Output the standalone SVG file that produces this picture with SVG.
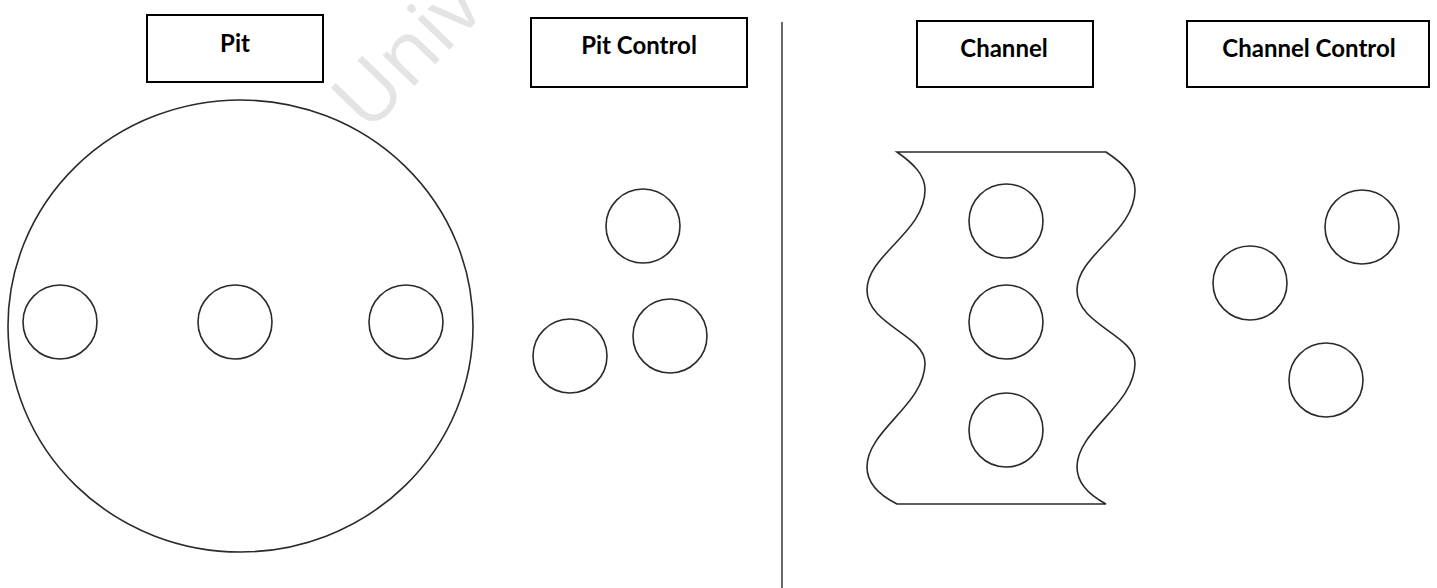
<svg xmlns="http://www.w3.org/2000/svg" width="1437" height="588" viewBox="0 0 1437 588">
  <style>
    .box { fill: #ffffff; stroke: #000000; stroke-width: 2; }
    .label { font-family: Lato, "Liberation Sans", sans-serif; font-weight: 700; font-size: 24px; fill: #000000; text-anchor: middle; }
    .ring { fill: none; stroke: #2a2a2a; stroke-width: 1.6; }
    .outline { fill: none; stroke: #2a2a2a; stroke-width: 1.6; }
    .mark { font-family: "Open Sans", Lato, sans-serif; font-weight: 400; font-size: 82px; fill: #e4e4e4; }
  </style>

  <rect width="1437" height="588" fill="#ffffff"/>

  <!-- faint background watermark -->
  <text class="mark" transform="translate(368 134) rotate(-46)">Univ</text>

  <!-- divider between the pit and channel panels -->
  <g id="connectors">
    <line x1="782" y1="22" x2="782" y2="588" stroke="#6a6a6a" stroke-width="2"/>
  </g>

  <!-- Pit -->
  <g id="pit-label">
    <rect class="box" x="147" y="15" width="176" height="67"/>
    <text class="label" x="235" y="52">Pit</text>
  </g>
  <g id="pit">
    <ellipse class="outline" cx="240.5" cy="326" rx="232.5" ry="226"/>
    <circle class="ring" cx="60" cy="322" r="37"/>
    <circle class="ring" cx="235" cy="322" r="37"/>
    <circle class="ring" cx="406" cy="322" r="37"/>
  </g>

  <!-- Pit Control -->
  <g id="pit-control-label">
    <rect class="box" x="531" y="18" width="216" height="69"/>
    <text class="label" x="639" y="54">Pit Control</text>
  </g>
  <g id="pit-control">
    <circle class="ring" cx="643" cy="226" r="37"/>
    <circle class="ring" cx="670" cy="336" r="37"/>
    <circle class="ring" cx="570" cy="356" r="37"/>
  </g>

  <!-- Channel -->
  <g id="channel-label">
    <rect class="box" x="917" y="21" width="176" height="66"/>
    <text class="label" x="1004" y="57">Channel</text>
  </g>
  <g id="channel">
    <path class="outline" d="M897,152 L1106,152
      C1124,164 1135,175 1135,190
      C1135,232 1077,255 1077,290
      C1077,325 1135,335 1135,363
      C1135,405 1077,430 1077,467
      C1077,484 1091,496 1106,504
      L897,504
      C881,496 867,484 867,467
      C867,430 925,405 925,363
      C925,335 867,325 867,290
      C867,255 925,232 925,190
      C925,175 914,164 897,152 Z"/>
    <circle class="ring" cx="1006" cy="221" r="37"/>
    <circle class="ring" cx="1006" cy="322" r="37"/>
    <circle class="ring" cx="1006" cy="430" r="37"/>
  </g>

  <!-- Channel Control -->
  <g id="channel-control-label">
    <rect class="box" x="1187" y="21" width="242" height="66"/>
    <text class="label" x="1309" y="57">Channel Control</text>
  </g>
  <g id="channel-control">
    <circle class="ring" cx="1362" cy="227" r="37"/>
    <circle class="ring" cx="1250" cy="283" r="37"/>
    <circle class="ring" cx="1326" cy="380" r="37"/>
  </g>
</svg>
